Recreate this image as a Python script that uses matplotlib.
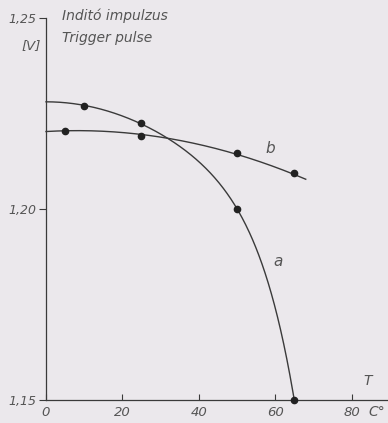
import numpy as np
import matplotlib
matplotlib.use("Agg")
import matplotlib.pyplot as plt

# Data
a_T = [0, 10, 25, 50, 65]
a_V = [1.228, 1.2270, 1.2225, 1.2000, 1.1500]
a_mark_T = [10, 25, 50, 65]
a_mark_V = [1.2270, 1.2225, 1.2000, 1.1500]

b_T = [0, 5, 25, 50, 65, 68]
b_V = [1.2204, 1.2205, 1.2191, 1.2147, 1.2094, 1.2073]
b_mark_T = [5, 25, 50, 65]
b_mark_V = [1.2205, 1.2191, 1.2147, 1.2094]

x_ticks = [0, 20, 40, 60, 80]
x_ticklabels = ["0", "20", "40", "60", "80"]
y_ticks = [1.15, 1.20, 1.25]
y_ticklabels = ["1,15", "1,20", "1,25"]

bg = "#ebe8ec"
ink = "#3a3a3a"
txt = "#555555"

fig = plt.figure(figsize=(3.88, 4.23), dpi=100, facecolor=bg)
ax = fig.add_axes([0.1186, 0.0544, 0.881, 0.903], facecolor=bg)

# smooth curve a: least-squares fit in even powers (flat start, steep end)
u = np.asarray(a_T) / a_T[-1]
basis = lambda x: np.column_stack([np.ones_like(x), x**2, x**8])
coef, *_ = np.linalg.lstsq(basis(u), np.asarray(a_V), rcond=None)
ta = np.linspace(a_T[0], a_T[-1], 400)
ax.plot(ta, basis(ta / a_T[-1]) @ coef, color=ink, lw=1.0, clip_on=False)

cb = np.polyfit(b_T, b_V, 2)
tb = np.linspace(b_T[0], b_T[-1], 300)
ax.plot(tb, np.polyval(cb, tb), color=ink, lw=1.0, clip_on=False)

ax.plot(a_mark_T, a_mark_V, "o", color="#222222", ms=4.5, clip_on=False, zorder=5)
ax.plot(b_mark_T, b_mark_V, "o", color="#222222", ms=4.5, clip_on=False, zorder=5)

ax.set_xlim(0, 89.5)
ax.set_ylim(1.15, 1.25)
for s in ["top", "right"]:
    ax.spines[s].set_visible(False)
for s in ["left", "bottom"]:
    ax.spines[s].set_color(ink)
    ax.spines[s].set_linewidth(0.9)

ax.set_xticks(x_ticks)
ax.set_xticklabels(x_ticklabels)
ax.set_yticks(y_ticks)
ax.set_yticklabels(y_ticklabels)
ax.tick_params(axis="x", direction="in", length=4, color=ink, labelcolor=txt,
               labelsize=9.5, pad=4)
ax.tick_params(axis="y", direction="out", length=5, color=ink, labelcolor=txt,
               labelsize=9, pad=2)
for lab in ax.get_xticklabels() + ax.get_yticklabels():
    lab.set_fontstyle("italic")

fs = dict(fontstyle="italic", color=txt)
fig.text(62 / 388, 1 - 16 / 423, "Inditó impulzus", fontsize=10, va="center", ha="left", **fs)
fig.text(62 / 388, 1 - 38 / 423, "Trigger pulse", fontsize=10, va="center", ha="left", **fs)
fig.text(21 / 388, 1 - 46 / 423, "[V]", fontsize=9.5, va="center", ha="left", **fs)
fig.text(270 / 388, 1 - 148 / 423, "b", fontsize=11, va="center", ha="center", **fs)
fig.text(278 / 388, 1 - 262 / 423, "a", fontsize=11, va="center", ha="center", **fs)
fig.text(368 / 388, 1 - 381 / 423, "T", fontsize=10, va="center", ha="center", **fs)
fig.text(377 / 388, 1 - 412 / 423, "C°", fontsize=10, va="center", ha="center", **fs)

fig.savefig("out.png", dpi=100, facecolor=bg)
